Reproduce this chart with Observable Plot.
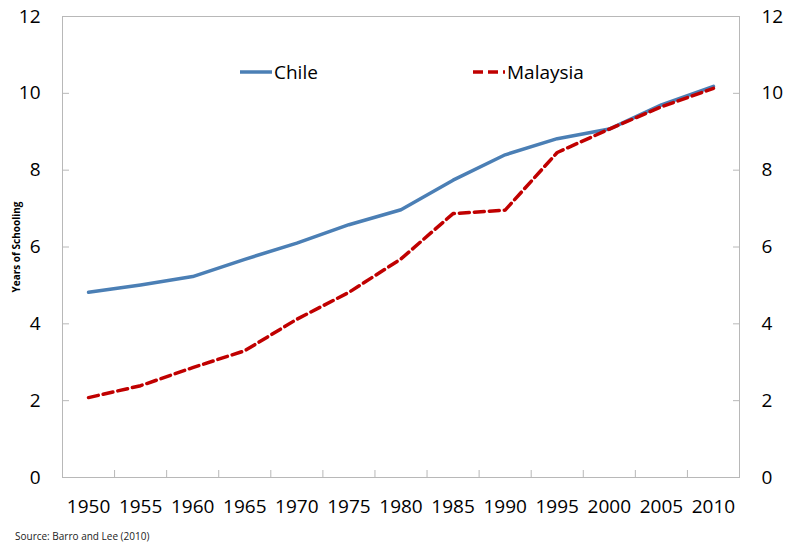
<!DOCTYPE html>
<html><head><meta charset="utf-8">
<script src="https://cdn.jsdelivr.net/npm/d3@7"></script>
<script src="https://cdn.jsdelivr.net/npm/@observablehq/plot@0.6"></script>
<style>
body{margin:0;background:#fff;font-family:"Open Sans",sans-serif}
#wrap{position:relative;width:785px;height:544px}
.leg{position:absolute;top:58px;font-size:19px;color:#000;display:flex;align-items:center;line-height:28px}
.leg svg{display:block;margin-right:2px}
#src{position:absolute;left:15px;top:529px;font-size:10px;color:#222}
</style>
</head><body><div id="wrap"></div>
<script>
const years = [1950,1955,1960,1965,1970,1975,1980,1985,1990,1995,2000,2005,2010];
const chile = [4.82,5.01,5.23,5.68,6.10,6.58,6.97,7.74,8.40,8.82,9.07,9.70,10.18];
const malaysia = [2.08,2.39,2.86,3.30,4.12,4.82,5.69,6.87,6.96,8.46,9.07,9.65,10.13];
const yTicks = [0,2,4,6,8,10,12];
const seriesNames = ["Chile","Malaysia"];
const seriesColors = ["#4b7fb5","#c00000"];
const seriesDash = [null,"10,5"];
const yLabel = "Years of Schooling";
const source = "Source: Barro and Lee (2010)";

const half = (years[1]-years[0])/2;
const bounds = years.slice(1).map(y => y - half);
const rows = s => years.map((y,i) => ({year:y, value:[chile,malaysia][s][i]}));
const gray = "#b8b8b8";

const chart = Plot.plot({
  width:785, height:544,
  marginLeft:62, marginRight:46, marginTop:16, marginBottom:67,
  x:{type:"linear", domain:[years[0]-half, years[years.length-1]+half]},
  y:{domain:[0,12]},
  style:{fontFamily:"Open Sans", background:"white", color:"black"},
  marks:[
    Plot.frame({stroke:gray}),
    Plot.axisX(bounds, {tickSize:-7, tickFormat:()=>"", stroke:gray, label:null}),
    Plot.axisX(years, {tickSize:0, tickPadding:22, tickFormat:d=>String(d), fontSize:19, label:null}),
    Plot.axisY(yTicks, {anchor:"left", tickSize:-7, tickFormat:()=>"", stroke:gray, label:null}),
    Plot.axisY(yTicks, {anchor:"left", tickSize:0, tickPadding:22, fontSize:19, label:null}),
    Plot.axisY(yTicks, {anchor:"right", tickSize:-7, tickFormat:()=>"", stroke:gray, label:null}),
    Plot.axisY(yTicks, {anchor:"right", tickSize:0, tickPadding:22, fontSize:19, label:null}),
    Plot.axisY([], {anchor:"left", label:yLabel, labelAnchor:"center", labelArrow:"none", labelOffset:50, fontSize:10, fontWeight:"bold", tickSize:0}),
    ...seriesNames.map((n,s) => Plot.line(rows(s), {x:"year", y:"value", stroke:seriesColors[s], strokeWidth:3.5, strokeDasharray:seriesDash[s], strokeLinejoin:"round"}))
  ]
});
const wrap = document.getElementById("wrap");
wrap.appendChild(chart);

const legPos = [240, 473];
seriesNames.forEach((n,s) => {
  const d = document.createElement("div");
  d.className = "leg";
  d.style.left = legPos[s] + "px";
  d.innerHTML = `<svg width="32" height="8"><line x1="0" y1="4" x2="32" y2="4" stroke="${seriesColors[s]}" stroke-width="3.5" ${seriesDash[s]?`stroke-dasharray="${seriesDash[s]}"`:""}/></svg><span>${n}</span>`;
  wrap.appendChild(d);
});
const src = document.createElement("div");
src.id = "src"; src.textContent = source;
wrap.appendChild(src);
</script>
</body></html>
